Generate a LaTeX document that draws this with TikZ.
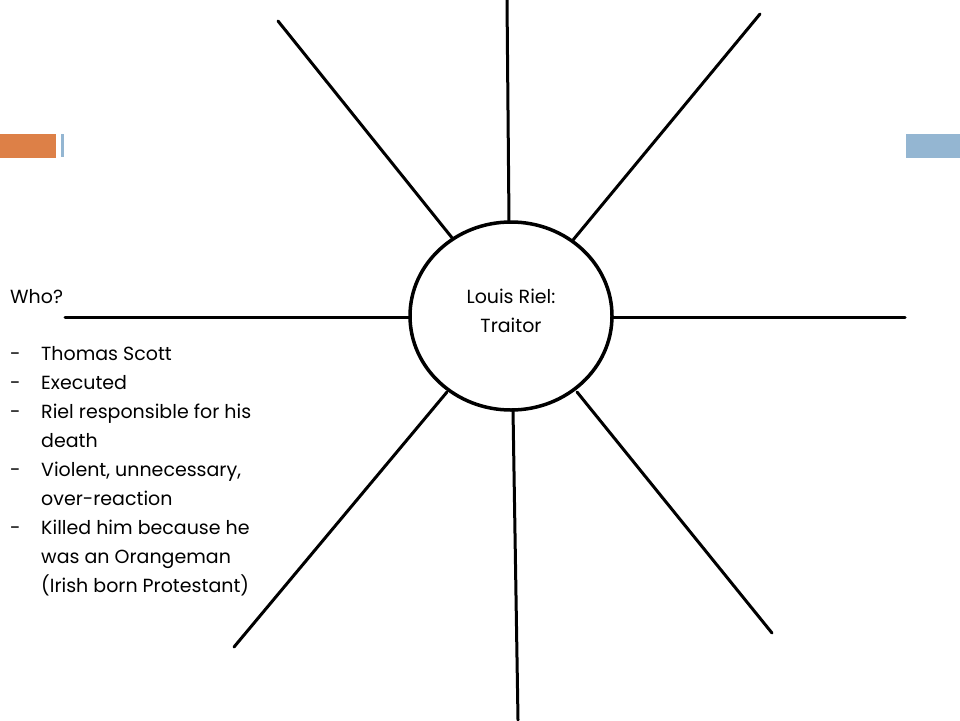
\documentclass[tikz,border=0pt]{standalone}
\usepackage{fontspec}
\setmainfont{Poppins}
\usetikzlibrary{shapes.geometric}
\definecolor{accorange}{HTML}{DD8047}
\definecolor{accblue}{HTML}{94B6D2}
\begin{document}
\begin{tikzpicture}[x=1pt,y=-1pt,
  spoke/.style={line width=3pt,line cap=round,black},
  txt/.style={anchor=base west,inner sep=0pt,font=\fontsize{19}{22}\selectfont},
  ctxt/.style={anchor=base,inner sep=0pt,font=\fontsize{19}{22}\selectfont}]
\useasboundingbox (0,0) rectangle (960,720);
\fill[white] (0,0) rectangle (960,720);
% theme bars
\fill[accorange] (0,134) rectangle (56,158);
\fill[accblue] (61,134) rectangle (64,157);
\fill[accblue] (906,134) rectangle (960,158);
% coordinates
\coordinate (t0) at (507,0);   \coordinate (t1) at (509,222);
\coordinate (ul0) at (278,21); \coordinate (ul1) at (453,239);
\coordinate (ur0) at (760,14); \coordinate (ur1) at (573,240);
\coordinate (l0) at (65,317);  \coordinate (l1) at (410,317);
\coordinate (r0) at (905,317); \coordinate (r1) at (612,317);
\coordinate (ll0) at (234,647);\coordinate (ll1) at (447,392);
\coordinate (b0) at (518,720); \coordinate (b1) at (513,410);
\coordinate (lr0) at (772,633);\coordinate (lr1) at (577,392);
\draw[spoke] (t0) -- (t1);
\draw[spoke] (ul0) -- (ul1);
\draw[spoke] (ur0) -- (ur1);
\draw[spoke] (l0) -- (l1);
\draw[spoke] (r0) -- (r1);
\draw[spoke] (ll0) -- (ll1);
\draw[spoke] (b0) -- (b1);
\draw[spoke] (lr0) -- (lr1);
\node[draw,line width=3.5pt,ellipse,minimum width=202pt,minimum height=188pt,inner sep=0pt,fill=white] (hub) at (511,316) {};
% center text
\node[ctxt] (c1) at (511,303) {Louis Riel:};
\node[ctxt] (c2) at (511,332) {Traitor};
% left text
\node[txt] (who) at (10,303) {Who?};
\node[txt] (d1) at (10,360) {-}; \node[txt] (i1) at (41,360) {Thomas Scott};
\node[txt] (d2) at (10,389) {-}; \node[txt] (i2) at (41,389) {Executed};
\node[txt] (d3) at (10,418) {-}; \node[txt] (i3) at (41,418) {Riel responsible for his};
\node[txt] (i3b) at (41,447) {death};
\node[txt] (d4) at (10,476) {-}; \node[txt] (i4) at (41,476) {Violent, unnecessary,};
\node[txt] (i4b) at (41,505) {over-reaction};
\node[txt] (d5) at (10,534) {-}; \node[txt] (i5) at (41,534) {Killed him because he};
\node[txt] (i5b) at (41,563) {was an Orangeman};
\node[txt] (i5c) at (41,592) {(Irish born Protestant)};
\end{tikzpicture}
\end{document}
